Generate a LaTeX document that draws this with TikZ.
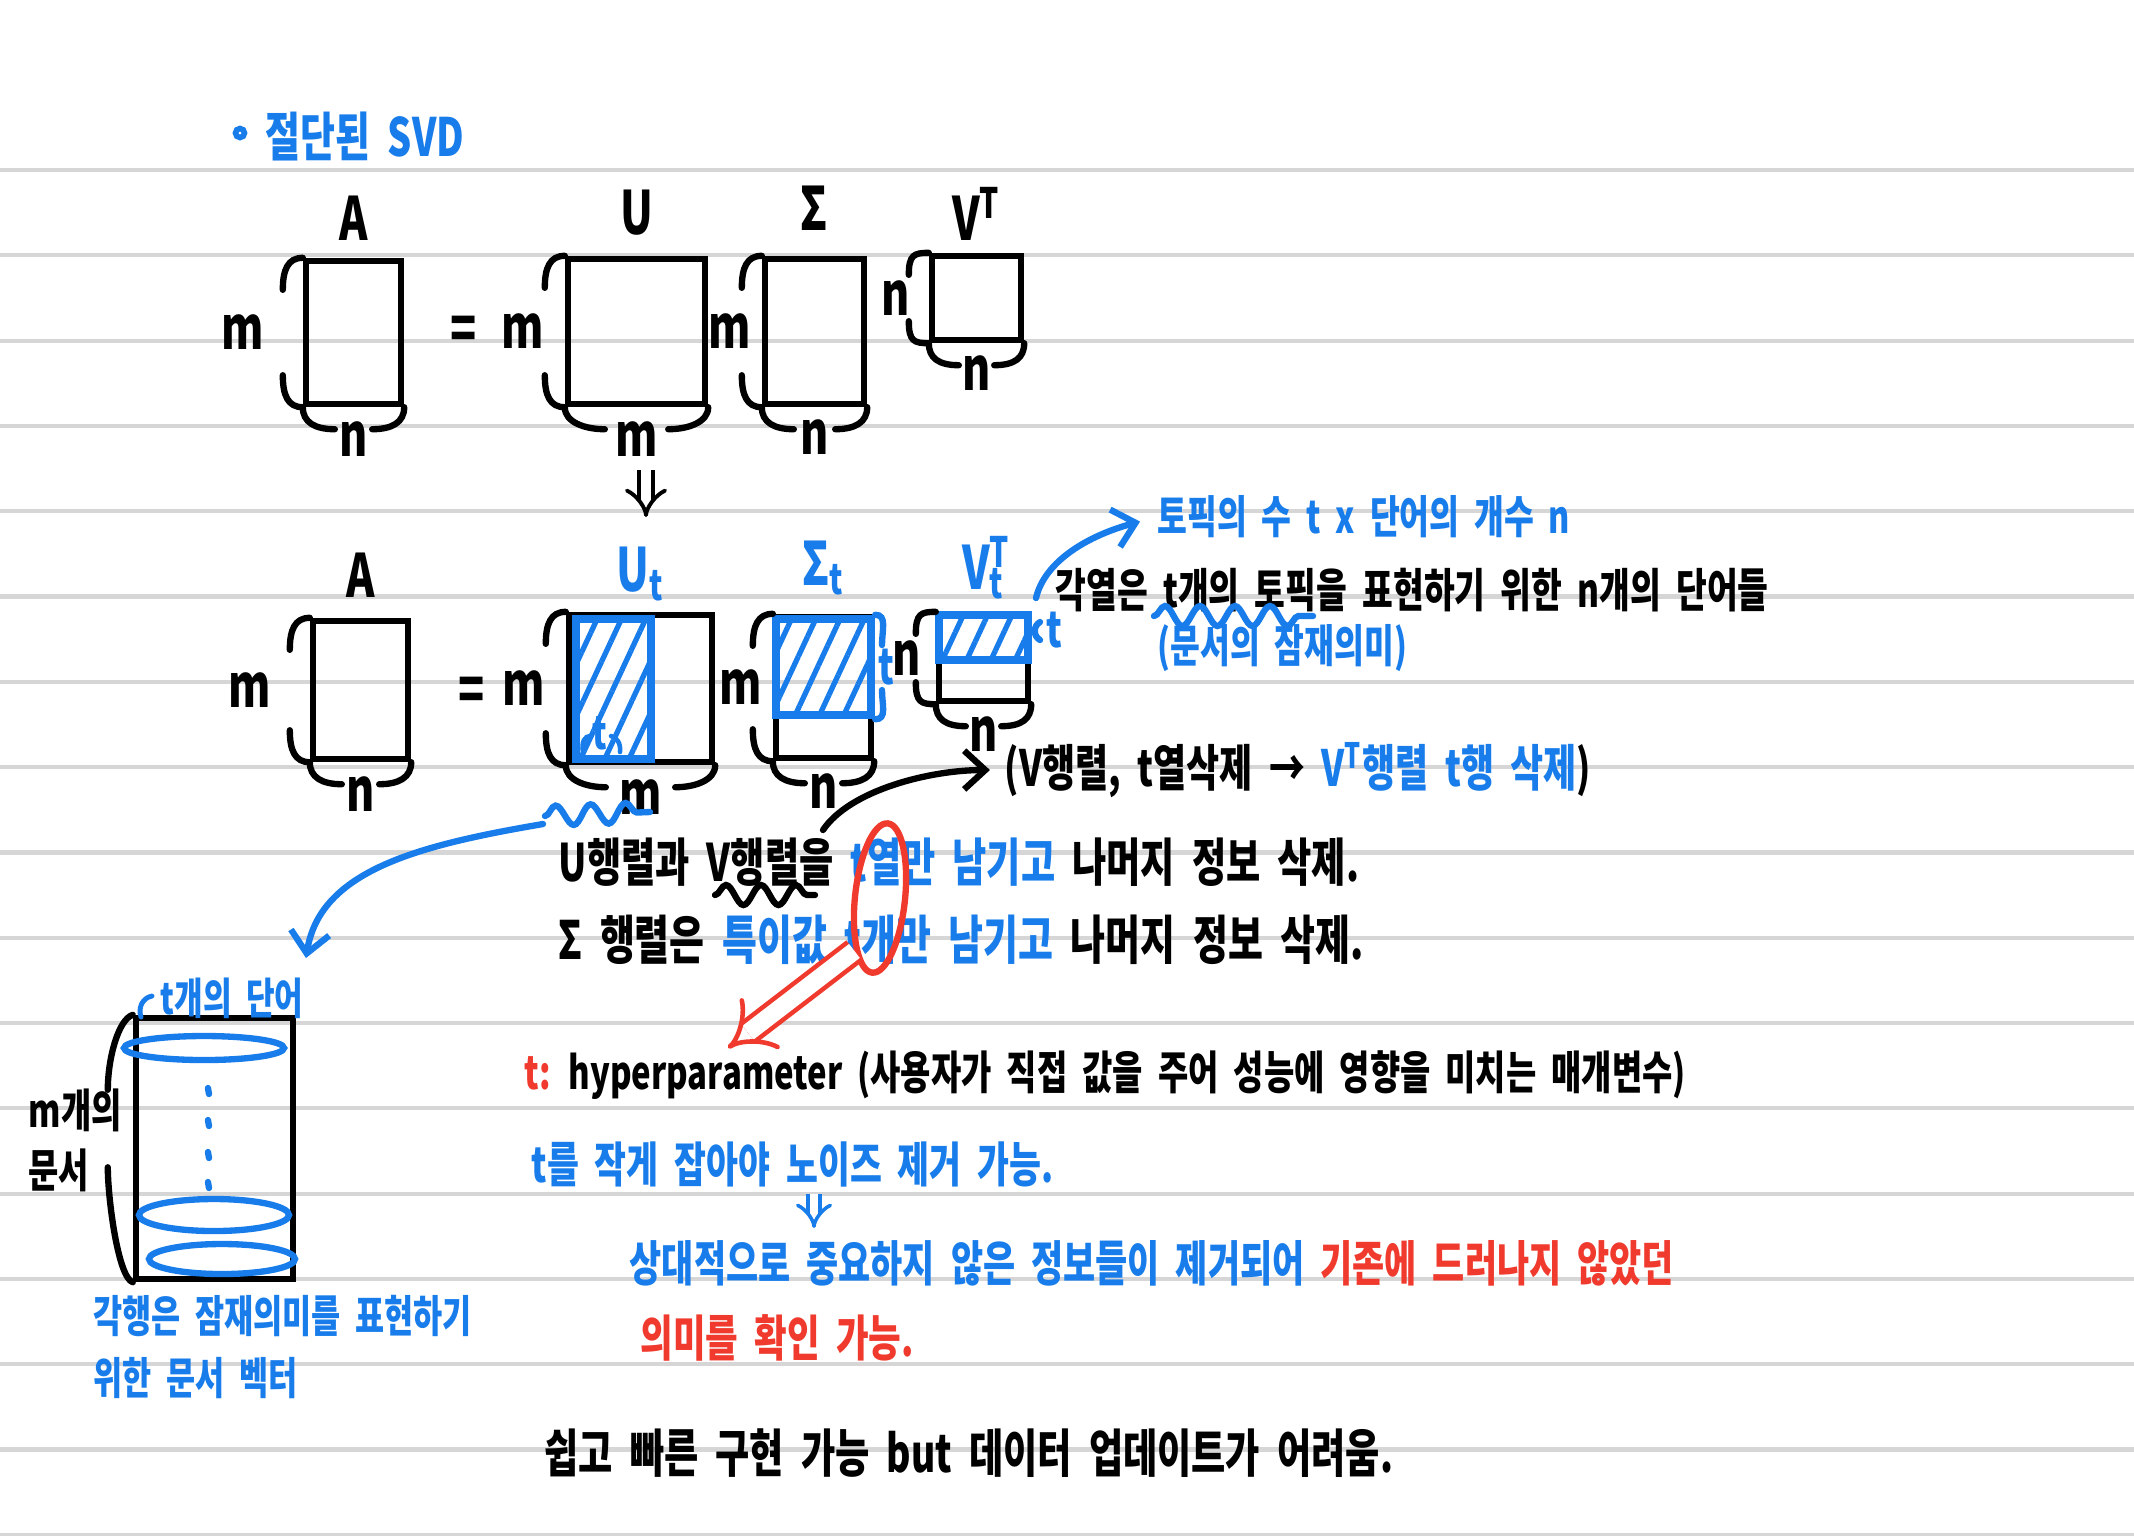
\documentclass[tikz,border=0pt]{standalone}
\usepackage{fontspec}
\setmainfont{Noto Sans CJK KR}[FakeStretch=0.72,WordSpace=2]
\usetikzlibrary{arrows.meta,patterns.meta,decorations.pathmorphing,shapes.geometric,positioning}
\definecolor{penblue}{RGB}{24,125,235}
\definecolor{penred}{RGB}{240,58,45}
\definecolor{ruleline}{RGB}{214,214,214}
% hand drawn braces round a matrix node
\newcommand{\sidebr}[2]{%
  \draw[pen] (#1.north west) .. controls +(-15,0) and +(0,-20) .. ++(-20,#2);
  \draw[pen] (#1.south west) .. controls +(-15,0) and +(0,20) .. ++(-20,-#2);}
\newcommand{\footbr}[2]{%
  \draw[pen] (#1.south west) .. controls +(0,15) and +(-20,0) .. ++(#2,22);
  \draw[pen] (#1.south east) .. controls +(0,15) and +(20,0) .. ++(-#2,22);}

\begin{document}
\begin{tikzpicture}[x=0.01cm,y=-0.01cm,
    pen/.style={line width=1.8pt,line cap=round},
    bluepen/.style={pen,penblue},
    mat/.style={draw,line width=1.8pt,inner sep=0pt},
    kept/.style={draw=penblue,line width=2.4pt,inner sep=0pt,
      pattern={Lines[angle=65,distance=0.22cm,line width=1.5pt]},pattern color=penblue},
    lbl/.style={font=\bfseries\fontsize{17}{20}\selectfont,inner sep=0pt},
    note/.style={font=\bfseries\fontsize{14.2}{17}\selectfont,inner sep=0pt,anchor=west},
    smallnote/.style={font=\bfseries\fontsize{12.8}{17}\selectfont,inner sep=0pt,anchor=west},
    wave/.style={decorate,decoration={snake,amplitude=1mm,segment length=3.5mm}},
    dbl/.style={double=white,line width=1.1pt,double distance=3pt,-{Implies}},
    headarrow/.style={-{Straight Barb[length=6pt,width=11pt]}}]
    \useasboundingbox (0,0) rectangle (2134,1535);
    \fill[white] (0,0) rectangle (2134,1535);
    % ruled paper
    \foreach \k in {0,...,16}
        \draw[ruleline,line width=1.2pt] (0,170+85.3*\k) -- (2134,170+85.3*\k);

    \draw[penblue,line width=1.6pt] (240,133) circle [radius=0.045cm];
    \node[note,font=\bfseries\fontsize{15}{18}\selectfont,penblue] (title) at (265,136) {절단된 SVD};

    % full SVD
    \node[mat,minimum width=0.95cm,minimum height=1.43cm] (A1) at (353.5,332.5) {};
    \node[lbl,above=0.17cm of A1] (A1name) {A};
    \node[lbl,left=0.38cm of A1] (A1m) {m};
    \node[lbl,below=0.14cm of A1] (A1n) {n};
    \sidebr{A1}{32} \footbr{A1}{32}
    \node[lbl] (eq1) at (464,333) {=};
    \node[mat,minimum width=1.37cm,minimum height=1.45cm] (U1) at (636.5,331.5) {};
    \node[lbl,above=0.2cm of U1] (U1name) {U};
    \node[lbl,left=0.2cm of U1] (U1m) {m};
    \node[lbl,below=0.14cm of U1] (U1n) {m};
    \sidebr{U1}{32} \footbr{U1}{40}
    \node[mat,minimum width=0.99cm,minimum height=1.45cm] (S1) at (814.5,331.5) {};
    \node[lbl,above=0.25cm of S1] (S1name) {Σ};
    \node[lbl,left=0.1cm of S1] (S1m) {m};
    \node[lbl,below=0.12cm of S1] (S1n) {n};
    \sidebr{S1}{32} \footbr{S1}{32}
    \node[mat,minimum width=0.89cm,minimum height=0.84cm] (V1) at (976.5,298) {};
    \node[lbl,above=0.12cm of V1] (V1name) {V\textsuperscript{T}};
    \node[lbl,left=0.18cm of V1] (V1n) {n};
    \node[lbl,below=0.12cm of V1] (V1b) {n};
    \sidebr{V1}{22} \footbr{V1}{30}

    \coordinate (down1a) at (646,470);
    \coordinate (down1b) at (646,517);
    \draw[dbl] (down1a) -- (down1b);

    % truncated SVD
    \node[mat,minimum width=0.95cm,minimum height=1.38cm] (A2) at (360.5,690) {};
    \node[lbl,above=0.2cm of A2] (A2name) {A};
    \node[lbl,left=0.38cm of A2] (A2m) {m};
    \node[lbl,below=0.14cm of A2] (A2n) {n};
    \sidebr{A2}{32} \footbr{A2}{32}
    \node[lbl] (eq2) at (472,694) {=};
    \node[mat,minimum width=1.43cm,minimum height=1.47cm] (U2) at (640.5,688.5) {};
    \node[kept,minimum width=0.75cm,minimum height=1.40cm] (Ut) at (613.5,689) {};
    \node[lbl,penblue,above=0.1cm of U2] (U2name) {U\textsubscript{t}};
    \node[lbl,left=0.2cm of U2] (U2m) {m};
    \node[lbl,below=0.14cm of U2] (U2n) {m};
    \sidebr{U2}{32} \footbr{U2}{40}
    \node[lbl,penblue,font=\bfseries\fontsize{13}{15}\selectfont] (Utt) at (600,733) {t};
    \draw[bluepen,line width=1.3pt] (583,752) .. controls (581,742) and (585,736) .. (590,736);
    \draw[bluepen,line width=1.3pt] (611,736) .. controls (617,737) and (621,744) .. (620,752);
    \node[mat,minimum width=0.95cm,minimum height=1.41cm] (S2) at (823.5,687.5) {};
    \node[kept,minimum width=0.95cm,minimum height=0.96cm] (St) at (823.5,667) {};
    \node[lbl,penblue,above=0.18cm of S2] (S2name) {Σ\textsubscript{t}};
    \node[lbl,left=0.1cm of S2] (S2m) {m};
    \node[lbl,below=0.12cm of S2] (S2n) {n};
    \sidebr{S2}{32} \footbr{S2}{32}
    \draw[bluepen] (St.north east) .. controls +(12,0) and +(0,-15) .. (882,645);
    \draw[bluepen] (St.south east) .. controls +(12,0) and +(0,15) .. (882,690);
    \node[lbl,penblue,font=\bfseries\fontsize{14}{16}\selectfont] (Stt) at (886,667) {t};
    \node[mat,minimum width=0.89cm,minimum height=0.86cm] (V2) at (983.5,658) {};
    \node[kept,minimum width=0.89cm,minimum height=0.45cm] (Vt) at (983.5,637.5) {};
    \node[lbl,penblue,above=0.12cm of V2] (V2name) {V\rlap{\textsuperscript{T}}\textsubscript{t}};
    \node[lbl,left=0.14cm of V2] (V2n) {n};
    \node[lbl,below=0.12cm of V2] (V2b) {n};
    \sidebr{V2}{22} \footbr{V2}{30}
    \draw[bluepen] (1040,622) .. controls (1033,626) and (1033,636) .. (1040,640);
    \node[lbl,penblue,font=\bfseries\fontsize{14}{16}\selectfont] (Vtt) at (1054,630) {t};

    % notes on V^T
    \node[smallnote,penblue] (topic) at (1157,517) {토픽의 수 t x 단어의 개수 n};
    \coordinate (vtl) at (1036,598);
    \draw[bluepen,headarrow,shorten >=5pt] (vtl) .. controls (1045,560) and (1090,535) .. (topic.west);
    \node[smallnote,font=\bfseries\fontsize{13.2}{17}\selectfont] (colnote) at (1055,590) {각열은 t개의 토픽을 표현하기 위한 n개의 단어들};
    \draw[bluepen,wave] (1154,616) -- (1313,616);
    \node[smallnote,penblue] (latent) at (1157,648) {(문서의 잠재의미)};

    \node[note] (vnote) at (1004,770) {(V행렬, t열삭제 → {\color{penblue}V\textsuperscript{T}행렬 t행 삭제})};
    \node[note,font=\bfseries\fontsize{14.7}{17}\selectfont] (line1) at (558,862) {U행렬과 V행렬을 {\color{penblue}t열만 남기고} 나머지 정보 삭제.};
    \node[note,font=\bfseries\fontsize{15}{17}\selectfont] (line2) at (558,940) {Σ 행렬은 {\color{penblue}특이값 t개만 남기고} 나머지 정보 삭제.};
    \draw[pen,wave] (715,895) -- (815,895);
    \coordinate (vtail) at (823,830);
    \draw[pen,headarrow,shorten >=4pt] (vtail) .. controls (850,790) and (930,770) .. (vnote.west);
    \node[draw=penred,line width=1.8pt,ellipse,minimum width=0.5cm,minimum height=1.5cm,rotate=-6] (tring) at (880,898) {};
    \coordinate (hyptip) at (728,1048);
    \draw[penred,dbl,line width=1.3pt,double distance=5pt] (tring.south west) -- (hyptip);

    % U_t rows as document vectors
    \draw[bluepen,wave] (545,816) -- (650,812);
    \coordinate (wv) at (543,824);
    \coordinate (dtip) at (306,958);
    \draw[bluepen,headarrow] (wv) .. controls (420,845) and (320,870) .. (dtip);
    \node[mat,minimum width=1.57cm,minimum height=2.61cm] (D) at (214.5,1148.5) {};
    \node[smallnote,penblue,font=\bfseries\fontsize{12.3}{14}\selectfont] (Dwords) at (160,998) {t개의 단어};
    \draw[bluepen,line width=1.4pt] (152,996) .. controls (142,998) and (138,1008) .. (141,1017);
    \draw[pen] (D.north west) .. controls +(-15,5) and +(0,-30) .. ++(-25,75);
    \draw[pen] (D.south west) .. controls +(-15,-5) and +(0,30) .. ++(-25,-115);
    \draw[bluepen] (204,1048) ellipse [x radius=0.8cm,y radius=0.12cm];
    \draw[bluepen] (214,1215) ellipse [x radius=0.75cm,y radius=0.16cm];
    \draw[bluepen] (222,1259) ellipse [x radius=0.73cm,y radius=0.15cm];
    \foreach \yy in {1088,1120,1152,1182}
        \draw[bluepen] (208,\yy) -- (209,\yy+6);
    \node[note,align=left,font=\bfseries\fontsize{13}{17}\selectfont] (mdocs) at (28,1140) {m개의\\문서};
    \node[note,align=left,penblue,font=\bfseries\fontsize{12.5}{17.5}\selectfont] (docvec) at (93,1347) {각행은 잠재의미를 표현하기\\위한 문서 벡터};

    % hyperparameter t
    \node[note,font=\bfseries\fontsize{13}{16}\selectfont] (hyp) at (524,1075) {{\color{penred}t:} hyperparameter (사용자가 직접 값을 주어 성능에 영향을 미치는 매개변수)};
    \node[note,penblue,font=\bfseries\fontsize{13.7}{16}\selectfont] (small) at (531,1164) {t를 작게 잡아야 노이즈 제거 가능.};
    \coordinate (down2a) at (814,1194);
    \coordinate (down2b) at (814,1228);
    \draw[penblue,dbl,line width=1pt,double distance=2.5pt] (down2a) -- (down2b);
    \node[note,penblue,font=\bfseries\fontsize{13.8}{16}\selectfont] (relat) at (629,1263) {상대적으로 중요하지 않은 정보들이 제거되어 {\color{penred}기존에 드러나지 않았던}};
    \node[note,penred,font=\bfseries\fontsize{14}{16}\selectfont] (meaning) at (640,1338) {의미를 확인 가능.};
    \node[note,font=\bfseries\fontsize{14.7}{17}\selectfont] (easy) at (544,1453) {쉽고 빠른 구현 가능 but 데이터 업데이트가 어려움.};
\end{tikzpicture}
\end{document}
